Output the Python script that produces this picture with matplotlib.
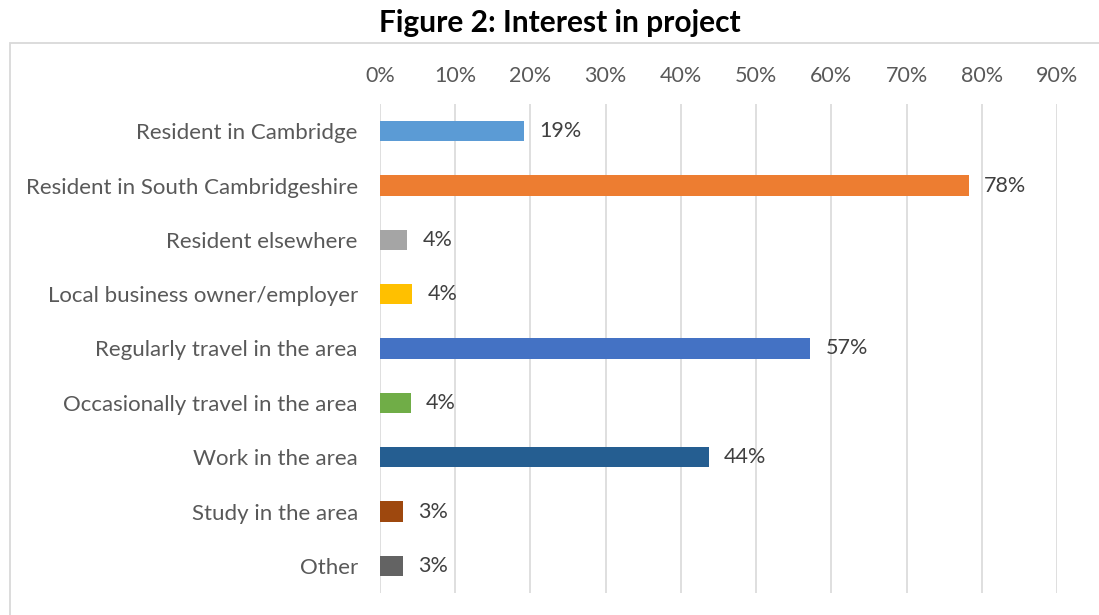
import matplotlib
matplotlib.use("Agg")
import matplotlib.pyplot as plt
from matplotlib.patches import Rectangle
from matplotlib.ticker import FuncFormatter, MultipleLocator

categories = [
    "Resident in Cambridge",
    "Resident in South Cambridgeshire",
    "Resident elsewhere",
    "Local business owner/employer",
    "Regularly travel in the area",
    "Occasionally travel in the area",
    "Work in the area",
    "Study in the area",
    "Other",
]
values = [19.2, 78.3, 3.6, 4.3, 57.2, 4.1, 43.7, 3.1, 3.1]
value_labels = ["19%", "78%", "4%", "4%", "57%", "4%", "44%", "3%", "3%"]
colors = ["#5B9BD5", "#ED7D31", "#A5A5A5", "#FFC000", "#4472C4",
          "#70AD47", "#255E91", "#9E480E", "#636363"]
title = "Figure 2: Interest in project"

plt.rcParams['font.family'] = ['Lato', 'DejaVu Sans']
W, H = 1099, 615
fig = plt.figure(figsize=(W / 100, H / 100), dpi=100)

# outer chart border
fig.patches.append(Rectangle((9.5 / W, -0.05), 1.2, (615 - 42.5) / H + 0.05,
                             transform=fig.transFigure, fill=False,
                             edgecolor="#D9D9D9", linewidth=1.3, zorder=0))

left, right, top, bottom = 380, 1057, 104, 593
ax = fig.add_axes([left / W, 1 - bottom / H, (right - left) / W, (bottom - top) / H])

y = list(range(len(categories)))
ax.barh(y, values, height=0.37, color=colors, zorder=3)
for yi, v, lab in zip(y, values, value_labels):
    ax.annotate(lab, (v, yi), xytext=(11, 0), textcoords="offset points",
                va="center", ha="left", fontsize=15.5, color="#404040")

ax.set_xlim(0, 90)
ax.set_ylim(len(categories) - 0.5, -0.5)
ax.xaxis.set_major_locator(MultipleLocator(10))
ax.xaxis.set_major_formatter(FuncFormatter(lambda x, p: f"{x:.0f}%"))
ax.xaxis.tick_top()
ax.set_yticks(y)
ax.set_yticklabels(categories)
ax.tick_params(axis="both", length=0, labelcolor="#595959")
ax.tick_params(axis="y", pad=16, labelsize=16)
ax.tick_params(axis="x", pad=13, labelsize=15.5)
ax.grid(axis="x", color="#D9D9D9", linewidth=1.2, zorder=0)
for s in ax.spines.values():
    s.set_visible(False)

fig.text(560 / W, 1 - 23 / H, title, ha="center", va="center",
         fontsize=21.5, fontweight="bold", color="black")

fig.savefig("out.png", dpi=100)
